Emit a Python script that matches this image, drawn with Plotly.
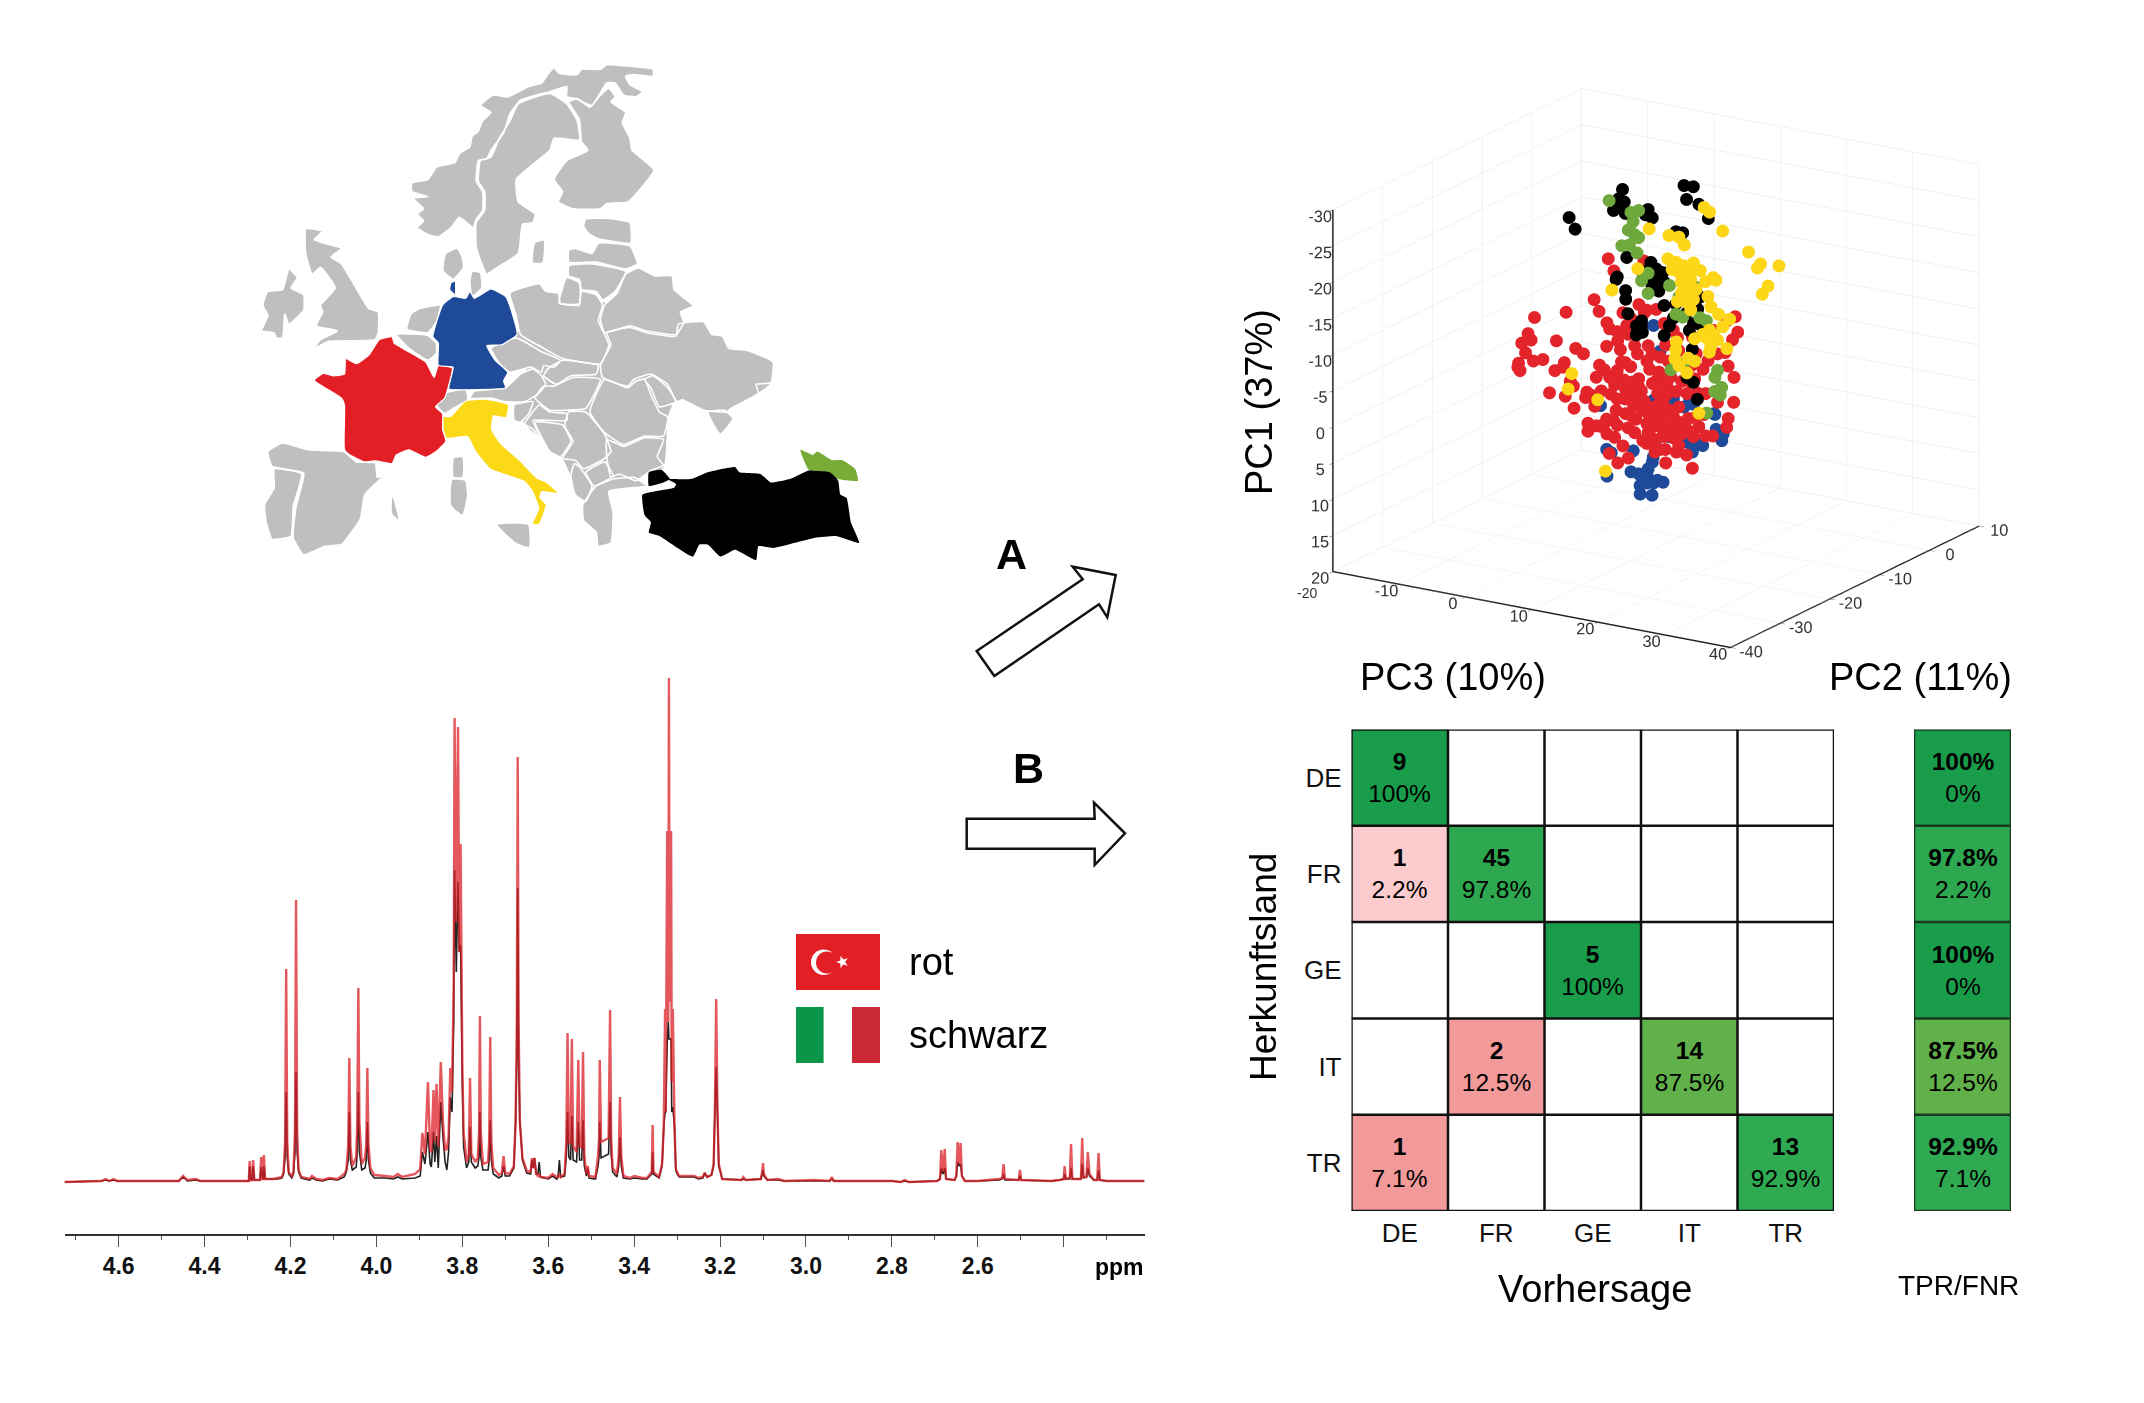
import math
import plotly.graph_objects as go

# ---------- spectrum (ppm, intensity red, intensity black) ----------
spec_ppm = [4.726,4.64,4.63,4.622,4.612,4.603,4.5,4.46,4.45,4.44,4.42,4.41,4.30,4.297,4.295,4.292,4.289,4.287,4.284,4.271,4.268,4.265,4.264,4.262,4.259,4.24,4.23,4.22,
4.216,4.2125,4.21,4.2075,4.204,4.197,4.193,4.1895,4.187,4.1845,4.181,4.175,4.155,4.15,4.14,4.125,4.11,4.09,4.075,4.07,4.0655,4.063,4.0605,4.056,4.047,4.0445,4.042,4.0395,4.034,4.0265,4.0235,4.021,4.0185,4.014,4.005,3.98,3.96,3.95,3.94,3.91,3.898,
3.893,3.889,3.887,3.88,3.875,3.872,3.867,3.864,3.86,3.856,3.85,3.845,3.84,3.836,3.832,3.828,3.824,3.82,3.818,3.814,3.81,3.807,3.804,3.80,3.797,3.79,3.785,3.782,3.779,3.77,3.764,3.761,3.759,3.757,3.752,3.74,3.7375,3.735,3.7325,3.728,3.715,3.708,3.704,3.70,3.69,3.68,3.676,3.673,3.671,3.669,3.666,3.66,3.65,3.641,3.638,3.635,3.632,3.628,3.624,3.621,3.618,3.60,3.59,3.58,3.577,3.574,3.571,3.562,
3.558,3.555,3.552,3.548,3.545,3.542,3.534,3.53,3.527,3.522,3.519,3.516,3.511,3.508,3.505,3.49,3.484,3.4815,3.48,3.477,3.4595,3.456,3.4535,3.45,3.44,3.436,3.433,3.43,3.425,3.41,3.40,3.38,3.37,3.359,3.357,3.355,3.342,
3.335,3.331,3.328,3.3265,3.323,3.3205,3.319,3.3175,3.314,3.3125,3.31,3.306,3.303,3.30,3.295,3.26,3.25,3.24,3.236,3.23,3.22,3.215,3.212,3.209,3.206,3.203,3.195,3.15,3.146,3.14,3.105,3.102,3.10,3.098,3.09,3.065,3.05,2.98,2.945,2.94,2.935,2.87,2.80,2.78,2.77,2.76,2.695,
2.688,2.685,2.681,2.677,2.674,2.654,2.65,2.647,2.6435,2.64,2.637,2.63,2.6,2.55,2.543,2.54,2.537,2.505,2.502,2.499,2.43,2.41,2.4,2.398,2.395,2.386,2.383,2.38,2.36,2.357,2.354,2.347,2.344,2.34,2.33,2.322,2.319,2.316,2.3,2.25,2.212]
spec_red = [0,1,3,1,3,1,1,1,6,2,3,1,1,1,21,2,2,22,2,2,25,3,3,27,3,3,4,5,
10,40,213,40,10,6,10,50,282,50,12,5,3,6,3,2,4,3,8,12,36,124,36,16,25,60,194,60,18,24,38,114,38,14,7,6,5,8,5,8,13,
49,35,28,100,32,30,92,40,98,35,120,60,32,33,45,114,90,200,464,260,455,230,338,120,50,20,28,104,28,20,24,50,166,50,18,20,40,145,40,14,7,9,26,9,8,16,60,160,425,160,60,24,11,10,24,14,24,8,6,8,5,4,8,5,5,8,5,8,
40,149,40,38,143,36,30,122,36,34,130,26,8,16,6,5,26,44,122,40,44,172,44,14,8,26,85,26,6,4,6,4,4,10,57,10,5,
18,55,173,70,351,160,504,180,351,100,173,55,14,10,6,6,4,5,9,5,7,18,70,183,70,18,3,2,5,2,3,10,19,8,2,3,1,2,1,5,1,1,1,0,2,0,1,
3,32,10,33,3,2,6,40,18,39,6,1,1,3,4,18,3,2,12,2,1,2,3,16,3,4,38,3,3,44,5,5,30,8,2,2,29,2,1,1,1]
spec_black = [0,1,2,1,2,1,1,1,5,1,2,1,1,1,16,2,2,16,2,2,15,3,3,16,3,3,3,4,
8,25,90,25,8,4,8,30,110,30,10,4,2,4,2,1,3,2,5,10,22,70,22,12,15,30,90,30,12,14,22,60,22,9,4,4,3,5,3,4,6,
30,22,18,50,18,15,50,20,46,14,80,45,20,12,30,85,70,160,312,210,300,230,237,100,35,14,20,55,20,14,16,25,70,25,12,12,22,62,22,8,4,6,16,6,6,14,60,125,294,125,60,22,9,8,22,14,24,8,8,20,5,3,6,3,5,22,5,6,
25,70,25,22,66,22,20,60,22,22,62,16,6,14,4,3,16,26,60,24,28,80,28,10,5,16,45,16,4,3,4,3,3,8,30,8,4,
16,55,70,70,140,160,143,143,143,70,75,55,12,8,5,5,3,4,9,5,7,16,70,115,70,16,3,2,3,2,3,8,12,6,2,2,1,1,1,3,1,1,1,0,1,0,1,
3,14,8,14,3,2,6,20,16,18,6,1,1,2,3,8,2,2,6,2,1,2,3,8,3,3,14,3,3,18,4,5,14,6,2,2,12,2,1,1,1]
ppm_ticks = [4.6,4.4,4.2,4.0,3.8,3.6,3.4,3.2,3.0,2.8,2.6,2.4]
ppm_labels = ["4.6","4.4","4.2","4.0","3.8","3.6","3.4","3.2","3.0","2.8","2.6",""]
ppm_minor = [4.7,4.5,4.3,4.1,3.9,3.7,3.5,3.3,3.1,2.9,2.7,2.5,2.3]

# ---------- confusion matrix ----------
classes = ["DE","FR","GE","IT","TR"]
conf_signed_pct = [[100,None,None,None,None],
                   [-2.2,97.8,None,None,None],
                   [None,None,100,None,None],
                   [None,-12.5,None,87.5,None],
                   [-7.1,None,None,None,92.9]]
conf_count = [[9,None,None,None,None],
              [1,45,None,None,None],
              [None,None,5,None,None],
              [None,2,None,14,None],
              [1,None,None,None,13]]
tpr = [100,97.8,100,87.5,92.9]
fnr = [0,2.2,0,12.5,7.1]
color_stops = [(-12.5,"#F29A9A"),(-7.1,"#F29A9A"),(-2.2,"#FBCBCD"),(87.5,"#60B14A"),(92.9,"#2FAA53"),(97.8,"#2EA751"),(100,"#1A9D4B")]

# ---------- PCA scores ----------
pc3_ticks = [-20,-10,0,10,20,30,40]
pc3_labels = ["","-10","0","10","20","30","40"]
pc2_ticks = [-40,-30,-20,-10,0,10]
pc2_labels = ["-40","-30","-20","-10","0","10"]
pc1_ticks = [-30,-25,-20,-15,-10,-5,0,5,10,15,20]
pc1_labels = ["-30","-25","-20","-15","-10","-5","0","5","10","15","20"]

blue_pc3 = [-.14,1.06,-8.36,-.14,3.08,5.09,5.89,4.69,8.71,9.11,9.52,10.16,10.16,3.88,4.69,5.89,6.7,5.49,.26,-6.99,-6.75,-3.2,.02,-.55,-.95,-2.16,-3.77,-7.15,.66,1.06,-.14,-.95,-2.4,-2.16,-.14,-1.35,2.27,7.5]
blue_pc1 = [-4.77,-1.5,7.85,5.56,4.72,4.65,5.07,5.56,5.98,5.91,7.8,8.5,9.36,9.9,10.6,10.94,9.96,11.85,11.9,13.46,14.1,13.1,13.36,14.3,15.2,16,16.2,17.3,16.4,16.8,17,17.05,17.86,18.9,18.6,16.1,10.2,10.4]
blue_pc2 = [-2,-2.3,-1.7,-2,-2.3,-1.7,-2,-2.3,-1.7,-2,-2.3,-1.7,-2,-2.3,-1.7,-2,-2.3,-1.7,-2,-2.3,-1.7,-2,-2.3,-1.7,-2,-2.3,-1.7,-2,-2.3,-1.7,-2,-2.3,-1.7,-2,-2.3,-1.7,-2,-2.3]

red_pc3 = [-15.1,-10.11,-6.33,-5.36,-3.75,-3.35,-16.07,-16.8,-15.83,-11.8,-16.23,-14.06,-15.27,-17.28,-17.84,-17.28,-11.8,-11,-10.6,-8.66,-7.94,-9.71,-12.61,-10.68,-9.23,-8.91,-4.4,-2.62,-3.99,-2.79,-2.14,-.77,.43,1.64,-1.18,-5.52,-4.56,-3.19,-6.01,-7.21,-6.41,-7.62,-6.01,-6.81,-6.01,-5.04,-6.81,-4.4,-3.19,-2.38,-1.18,.03,-2.79,-1.98,-2.54,-3.59,-1.18,1.24,2.05,2.85,
-.37,.84,2.05,3.66,1.24,2.45,4.06,5.67,6.88,.03,1.64,3.25,4.86,-1.18,-.37,1.24,2.45,4.06,5.27,.43,2.05,3.66,4.46,5.67,6.88,2.85,4.06,2.05,6.07,-.77,-1.58,-2.79,-3.99,
6.47,6.88,4.46,2.05,2.85,4.86,.43,-.37,1.64,8.49,9.69,10.5,12.51,15.17,14.77,14.12,13.88,15.33,14.77,15.41,13.72,9.29,11.3,10.1,12.51,9.29,8.88,9.69,8.08,10.5,14.12,14.12,11.55,8.88,6.88,6.07,7.84,4.86,8.49,4.7,4.06,5.67,10.5,6.88,7.68,
3.25,2.05,1.24,4.46,6.07,8.49,-1.18,-.37,-1.98,1.4,.84,3.25,4.86,.84,3.25,4.46,2.85,1.64,5.27,-.37,-1.58,-2.79,-3.99,-4.8,4.46,3.25,6.88,8.08,-2.38,-1.58,-3.59,-4.8,6.07,8.49,6.07,3.66,-1.98,-2.38,-3.99,0,12.1,12.91,11.7,13.72,12.91,2.05,7.68]
red_pc1 = [-4.6,-6.3,-8.5,-7.15,-14.8,-13,-2.2,-.86,-1.25,-1.95,.38,1.13,1.45,2,2.84,3.13,2.07,1.65,.85,-1.55,-.73,3.27,5.28,5.62,3.86,6.76,-5.64,-4.83,-2.65,-3.4,-2.41,-4.88,-9,-15.08,-.9,.42,.81,1.4,2.18,4.34,4.49,5.26,6.09,8.46,8.89,8.72,9.58,9.72,7.55,7.97,8.32,8.68,9.72,10.97,13.31,12.09,12.51,9.57,9.71,10.97,
1.75,.98,-.34,-.34,2.59,1.54,.98,-.14,.49,3.37,3.92,2.8,2.52,4.13,5.1,5.38,4.61,4.06,4.68,6.65,6.36,5.52,6.5,5.73,6.08,7.34,7.69,8.32,7.06,2.94,1.68,2.46,1.82,
-5.58,-3.98,-4.12,-3.7,-2.72,-1.95,-2.29,-.48,-1.39,.21,1.4,1.54,2.31,1.73,-1.44,-3,-4.92,-7.79,-6.74,-10.15,-9.08,-3.84,-3.35,-1.74,-4.4,-.49,5.17,6.15,6.71,7.4,4.26,5.38,7.22,7.68,9.15,10.41,10.39,10.06,12.22,12.05,10.2,8.52,4.33,3.84,2.03,
-8.93,-8.72,-8.02,-7.19,-6.63,-5.93,-5.93,-7.19,-7.46,-15.3,2.1,.84,1.12,4.62,4.47,5.1,6.22,7.27,6.64,6.22,6.43,6.09,7.41,8.4,8.45,8.94,7.75,5.31,4.34,3.08,3.99,3.65,2.03,-2.02,-2.16,-2.3,-.76,.43,-4.88,-3.34,-7.68,-9.78,-.91,.42,2.24,-6.49,-4.68]
red_pc2 = [-6,-6.3,-5.7,-6,-6.3,-5.7,-6,-6.3,-5.7,-6,-6.3,-5.7,-6,-6.3,-5.7,-6,-6.3,-5.7,-6,-6.3,-5.7,-6,-6.3,-5.7,-6,-6.3,-5.7,-6,-6.3,-5.7,-6,-6.3,-5.7,-6,-6.3,-5.7,-6,-6.3,-5.7,-6,-6.3,-5.7,-6,-6.3,-5.7,-6,-6.3,-5.7,-6,-6.3,-5.7,-6,-6.3,-5.7,-6,-6.3,-5.7,-6,-6.3,-5.7,
-6,-6.3,-5.7,-6,-6.3,-5.7,-6,-6.3,-5.7,-6,-6.3,-5.7,-6,-6.3,-5.7,-6,-6.3,-5.7,-6,-6.3,-5.7,-6,-6.3,-5.7,-6,-6.3,-5.7,-6,-6.3,-5.7,-6,-6.3,-5.7,
-6,-6.3,-5.7,-6,-6.3,-5.7,-6,-6.3,-5.7,-6,-6.3,-5.7,-6,-6.3,-5.7,-6,-6.3,-5.7,-6,-6.3,-5.7,-6,-6.3,-5.7,-6,-6.3,-5.7,-6,-6.3,-5.7,-6,-6.3,-5.7,-6,-6.3,-5.7,-6,-6.3,-5.7,-6,-6.3,-5.7,-6,-6.3,-5.7,
-6,-6.3,-5.7,-6,-6.3,-5.7,-6,-6.3,-5.7,-6,-6.3,-5.7,-6,-6.3,-5.7,-6,-6.3,-5.7,-6,-6.3,-5.7,-6,-6.3,-5.7,-6,-6.3,-5.7,-6,-6.3,-5.7,-6,-6.3,-5.7,-6,-6.3,-5.7,-6,-6.3,-5.7,-6,-6.3]

black_pc3 = [1.18,10.68,11.64,10.84,12.93,13.9,-6.88,-5.75,.37,-.19,1.66,.61,5.04,1.82,5.44,4.64,9.47,10.03,1.82,5.68,3.83,6.25,7.46,5.2,6.25,7.05,4.64,6.65,5.85,7.3,.21,.61,1.42,1.66,2.22,3.83,3.43,4.24,3.03,8.26,9.07,10.68,11.88,11.48,12.7,7.46,13.09,12.29,7.46,9.47,11.48,11.88,12.7,10.68,3.27,4.4]
black_pc1 = [-26.5,-28.8,-28.6,-26.8,-26.6,-24.6,-21.2,-19.9,-24.95,-23.35,-24.95,-24.3,-24.4,-23.4,-23.2,-23.6,-22.2,-21.95,-17.2,-17.3,-15.6,-16.4,-16.2,-14.5,-14.1,-15.4,-15.25,-13.4,-13.8,-14.6,-13.9,-14.4,-12.45,-11.4,-9.6,-8.7,-7.5,-8.2,-6.6,-8.9,-10.2,-11,-9.8,-8.9,-9.7,-7.4,-13.8,-11.8,-11.55,-12.2,-6.1,-1.7,.4,-2.05,-8,-7.4]
black_pc2 = [-10,-10.3,-9.7,-10,-10.3,-9.7,-10,-10.3,-9.7,-10,-10.3,-9.7,-10,-10.3,-9.7,-10,-10.3,-9.7,-10,-10.3,-9.7,-10,-10.3,-9.7,-10,-10.3,-9.7,-10,-10.3,-9.7,-10,-10.3,-9.7,-10,-10.3,-9.7,-10,-10.3,-9.7,-10,-10.3,-9.7,-10,-10.3,-9.7,-10,-10.3,-9.7,-10,-10.3,-9.7,-10,-10.3,-9.7,-10,-10.3]

green_pc3 = [1.41,6.08,4.47,5.03,4.71,4.07,5.27,6.08,3.1,4.47,5.84,6.08,7.29,10.75,14.13,11.96,11.71,12.28,15.1,16.3,10.51,17.75,17.59,18.16,17.35,18.4,15.9,7.29,12.92]
green_pc1 = [-26,-25.55,-24.8,-23.75,-22.7,-22.3,-21.95,-21.8,-19.95,-20.4,-19.65,-15.65,-14.2,-16,-16.2,-14.55,-12.2,-11.7,-12.2,-12.1,-4.1,-5.4,-4.5,-3,-2.4,-2.2,.95,-17,-5.7]
green_pc2 = [-13,-13.3,-12.7,-13,-13.3,-12.7,-13,-13.3,-12.7,-13,-13.3,-12.7,-13,-13.3,-12.7,-13,-13.3,-12.7,-13,-13.3,-12.7,-13,-13.3,-12.7,-13,-13.3,-12.7,-13,-13.3]

yellow_pc3 = [17.99,19.03,20.56,9.69,12.91,13.96,15.01,24.91,26.28,26.04,29.5,27.41,26.76,12.75,13.56,13.16,14.36,15.57,16.38,15.17,17.18,15.97,14.77,17.99,19.35,20,15.17,16.38,14.77,15.57,15.97,18.79,18.79,13.96,20.4,21.61,20.8,4.3,7.76,18.79,19.6,17.99,20,19.19,21.2,18.79,16.78,13.56,13.72,13.8,13.96,15.57,16.78,15.17,-1.98,-2.3,1.72,3.09,17.42,14.36,16.78,17.99]
yellow_pc1 = [-28.96,-28.6,-26.05,-24.55,-24.3,-24.05,-23.25,-24.1,-22.5,-22,-23,-19.65,-18.5,-21.05,-20.5,-19.55,-19.5,-19.4,-21,-20.5,-20,-18.65,-18.2,-18.6,-19.5,-19.35,-16.85,-15.95,-15.65,-14.95,-14.45,-16.9,-15.25,-15.25,-14.7,-14.05,-12.95,-15.25,-18.6,-12.15,-11.75,-10.9,-11,-10,-9.9,-9.1,-10.7,-9.5,-8.5,-7.4,-6.3,-7.7,-7.6,-5.5,-2.5,-.4,.57,10.1,-.5,-16.4,-17.4,-11.5]
yellow_pc2 = [-16,-16.3,-15.7,-16,-16.3,-15.7,-16,-16.3,-15.7,-16,-16.3,-15.7,-16,-16.3,-15.7,-16,-16.3,-15.7,-16,-16.3,-15.7,-16,-16.3,-15.7,-16,-16.3,-15.7,-16,-16.3,-15.7,-16,-16.3,-15.7,-16,-16.3,-15.7,-16,-16.3,-15.7,-16,-16.3,-15.7,-16,-16.3,-15.7,-16,-16.3,-15.7,-16,-16.3,-15.7,-16,-16.3,-15.7,-16,-16.3,-15.7,-16,-16.3,-15.7,-16,-16.3]

# ---------- map outlines ----------
map_land = [[(670,860),(880,760),(1000,830),(1290,935),(1285,995),(1255,1025),(1190,1060),(1125,1070),(1075,1040),(1055,1050),(1040,1095),(1030,1240),(960,1275),(900,1310),(860,1300),(840,1340),(790,1215),(700,1115),(675,1060),(730,1030)]]
map_islands = [
 [(532,1215),(552,1212),(552,1268),(532,1268)],
 [(528,1278),(558,1280),(563,1322),(552,1378),(526,1352)],
 [(636,1408),(708,1408),(710,1472),(680,1460)],
 [(386,1326),(400,1392),(385,1374)],
 [(725,590),(745,583),(742,645),(720,645)],
]
map_gray = [
 [(755,100),(770,80),(780,95),(800,100),(825,100),(835,85),(880,85),(895,72),(940,75),(1005,85),(1005,105),(960,100),(940,105),(950,130),(980,150),(965,165),(935,160),(915,125),(895,125),(860,190),(820,170),(800,165),(800,135),(760,150),(690,175),(665,215),(650,270),(620,320),(610,345),(590,350),(585,410),(600,440),(600,495),(585,520),(578,545),(545,515),(525,545),(495,572),(470,565),(445,545),(460,525),(445,505),(460,490),(435,460),(470,455),(432,440),(432,415),(470,405),(490,370),(535,355),(545,330),(570,310),(575,280),(590,265),(600,235),(620,210),(595,190),(625,160),(660,165),(710,135),(740,125)],
 [(760,155),(800,185),(825,235),(830,290),(770,285),(760,320),(680,405),(685,470),(725,505),(720,530),(695,535),(685,620),(635,660),(610,680),(595,640),(585,600),(585,530),(605,495),(605,440),(590,410),(595,350),(620,340),(640,285),(665,235),(685,185)],
 [(805,180),(825,170),(855,195),(880,160),(900,140),(915,165),(905,180),(940,210),(932,240),(950,285),(955,320),(1007,378),(945,470),(895,475),(880,490),(815,490),(780,470),(790,440),(770,405),(800,350),(850,320),(835,295),(830,230)],
 [(512,620),(540,605),(550,625),(555,660),(530,695),(506,670)],
 [(575,672),(595,675),(598,720),(575,745),(570,700)],
 [(180,548),(220,555),(200,580),(265,605),(240,630),(265,650),(290,700),(330,780),(352,790),(352,850),(345,870),(235,875),(200,895),(215,870),(255,845),(205,830),(220,790),(215,770),(250,720),(215,660),(195,680),(180,620)],
 [(140,665),(160,690),(145,720),(175,740),(175,785),(140,825),(130,795),(125,865),(110,865),(105,850),(75,845),(90,800),(78,770),(90,730),(125,725)],
 [(420,840),(430,795),(450,780),(500,770),(490,820),(470,850)],
 [(395,855),(470,858),(490,880),(490,910),(470,930),(425,895)],
 [(90,1195),(125,1170),(185,1190),(270,1195),(300,1225),(345,1228),(350,1270),(365,1265),(320,1320),(310,1390),(265,1465),(225,1470),(175,1495),(150,1445),(157,1355),(175,1258),(100,1238)],
 [(105,1245),(170,1260),(150,1355),(145,1440),(100,1450),(85,1395),(82,1350),(105,1300)],
 [(495,1030),(560,1015),(565,1045),(530,1070),(510,1085),(490,1060)],
 [(570,1040),(580,1020),(655,1010),(690,970),(720,955),(740,975),(750,1000),(730,1030),(700,1050),(650,1050),(620,1040)],
 [(620,895),(680,865),(740,905),(785,930),(770,950),(745,945),(740,965),(715,950),(665,965),(640,940)],
 [(665,735),(735,708),(750,730),(780,735),(785,765),(830,770),(835,730),(870,740),(885,770),(875,815),(900,885),(880,940),(790,925),(745,895),(690,855),(680,800)],
 [(845,520),(900,518),(950,530),(952,590),(870,575),(850,560),(840,540)],
 [(875,590),(950,598),(968,650),(940,665),(870,645),(805,645),(805,610),(820,605),(860,620)],
 [(805,655),(860,650),(940,672),(915,730),(885,755),(870,730),(835,725),(830,695),(805,685)],
 [(800,690),(830,705),(830,765),(782,765),(790,720)],
 [(970,662),(1010,685),(1050,685),(1055,725),(1100,772),(1070,790),(1078,820),(1060,855),(990,845),(950,830),(890,850),(880,810),(890,770),(920,735),(940,680)],
 [(895,850),(950,835),(990,850),(1060,860),(1065,825),(1125,818),(1145,855),(1170,860),(1185,895),(1225,900),(1290,935),(1285,995),(1250,1000),(1255,1025),(1190,1070),(1180,1080),(1125,1075),(1075,1045),(1060,1050),(1040,1000),(1000,970),(960,985),(945,1005),(885,980),(880,945),(905,885)],
 [(1135,1080),(1175,1075),(1195,1100),(1165,1145),(1150,1120)],
 [(985,985),(1005,975),(1040,1010),(1060,1050),(1020,1065),(1000,1010)],
 [(790,930),(875,945),(870,970),(810,975),(775,1000),(745,975),(755,955)],
 [(745,1005),(770,1005),(815,980),(880,985),(845,1070),(800,1075),(760,1075),(725,1040)],
 [(890,985),(945,1010),(965,990),(985,985),(1000,1030),(1020,1080),(1040,1095),(1030,1150),(985,1150),(935,1175),(890,1140),(855,1080)],
 [(895,1160),(935,1180),(985,1155),(1030,1160),(1015,1210),(1030,1235),(1000,1250),(965,1280),(925,1260),(905,1270),(895,1210)],
 [(675,1060),(720,1050),(710,1085),(690,1110),(675,1105)],
 [(735,1060),(760,1080),(800,1085),(800,1105),(720,1105),(760,1200),(720,1130),(700,1115)],
 [(725,1110),(790,1118),(810,1165),(785,1210),(760,1195)],
 [(805,1080),(845,1080),(890,1145),(905,1195),(890,1215),(840,1245),(820,1220),(790,1215),(815,1165),(795,1120)],
 [(818,1230),(830,1240),(860,1295),(845,1340),(820,1320),(810,1265)],
 [(845,1255),(890,1225),(910,1265),(865,1295)],
 [(870,1295),(910,1275),(960,1270),(990,1295),(900,1310),(910,1370),(905,1460),(875,1470),(870,1430),(840,1395),(838,1350)],
]
map_france = [[(355,870),(385,862),(390,880),(465,935),(485,980),(495,945),(528,952),(510,1040),(488,1065),(505,1085),(505,1130),(513,1165),(490,1195),(465,1212),(425,1190),(395,1205),(385,1230),(345,1222),(320,1225),(285,1205),(272,1190),(272,1060),(265,1040),(200,988),(222,968),(245,975),(272,970),(275,925),(300,940),(330,915)]]
map_germany = [[(505,770),(530,745),(560,750),(570,730),(580,750),(620,723),(655,745),(672,800),(682,855),(645,885),(610,887),(630,930),(660,965),(650,990),(655,1010),(590,1015),(520,1013),(530,950),(495,945),(495,880),(482,862)],
 [(525,705),(535,700),(535,740),(522,725)]]
map_italy = [[(508,1095),(525,1095),(560,1050),(610,1045),(660,1060),(655,1095),(625,1090),(620,1130),(640,1170),(690,1225),(730,1275),(750,1285),(778,1315),(740,1310),(735,1330),(750,1350),(733,1405),(720,1405),(735,1360),(720,1310),(700,1280),(620,1245),(585,1195),(565,1150),(515,1155),(508,1130)]]
map_turkey = [[(995,1255),(1025,1248),(1045,1275),(1030,1285),(995,1295)],
 [(980,1320),(1055,1300),(1060,1290),(1040,1275),(1095,1275),(1135,1255),(1200,1240),(1210,1255),(1260,1260),(1285,1285),(1330,1275),(1375,1250),(1430,1255),(1445,1280),(1450,1320),(1465,1330),(1475,1400),(1495,1460),(1440,1440),(1390,1445),(1290,1475),(1255,1470),(1250,1510),(1200,1480),(1165,1500),(1135,1465),(1115,1465),(1100,1500),(1020,1440),(995,1430),(1000,1400),(985,1380)]]
map_georgia = [[(1355,1190),(1385,1205),(1395,1195),(1430,1220),(1455,1220),(1485,1245),(1492,1280),(1445,1275),(1425,1255),(1375,1248)]]

# ---------- helpers / page geometry ----------
W, H, M = 2144, 1403, 8
FW, FH = W - 2*M, H - 2*M
def dx(a, b): return [(a-M)/FW, (b-M)/FW]
def dy(a, b): return [1-(b-M)/FH, 1-(a-M)/FH]
def flat(polys):
    xs, ys = [], []
    for p in polys:
        xs += [q[0] for q in p] + [p[0][0], None]
        ys += [q[1] for q in p] + [p[0][1], None]
    return xs, ys

fig = go.Figure()
FONT = "Liberation Sans, Arial, sans-serif"

# map
for polys, col, lw in [(map_land,"#BFBFBF",0),(map_islands,"#BFBFBF",0),(map_gray,"#BFBFBF",1.6),(map_france,"#E31E24",1.2),(map_germany,"#1F4A9A",1.2),
                       (map_italy,"#FCD917",0),(map_turkey,"#000000",0),(map_georgia,"#78AC36",0)]:
    xs, ys = flat(polys)
    fig.add_trace(go.Scatter(x=xs, y=ys, mode="lines", fill="toself", fillcolor=col,
                             line=dict(color="#FFFFFF", width=lw, shape="spline", smoothing=0.4), xaxis="x2", yaxis="y2", hoverinfo="skip"))

# spectrum
fig.add_trace(go.Scatter(x=spec_ppm, y=spec_black, mode="lines", line=dict(color="#222222", width=1.6, simplify=False),
                         xaxis="x3", yaxis="y3", hoverinfo="skip"))
fig.add_trace(go.Scatter(x=spec_ppm, y=spec_red, mode="lines", line=dict(color="#DC2028", width=2.4, simplify=False),
                         opacity=0.75, xaxis="x3", yaxis="y3", hoverinfo="skip"))

# confusion matrix
lo, hi = color_stops[0][0], color_stops[-1][0]
cs = [[(v-lo)/(hi-lo), c] for v, c in color_stops]
conf_text = [[("" if conf_count[r][c] is None else f"<b>{conf_count[r][c]}</b><br>{abs(conf_signed_pct[r][c]):g}%")
              for c in range(5)] for r in range(5)]
fig.add_trace(go.Heatmap(z=conf_signed_pct, x=classes, y=classes, text=conf_text, texttemplate="%{text}",
                         textfont=dict(size=24.5, family=FONT, color="#000"),
                         colorscale=cs, zmin=lo, zmax=hi, showscale=False, xaxis="x4", yaxis="y4", hoverinfo="skip"))
side_text = [[f"<b>{t:g}%</b><br>{f:g}%"] for t, f in zip(tpr, fnr)]
fig.add_trace(go.Heatmap(z=[[t] for t in tpr], x=["TPR/FNR"], y=classes, text=side_text, texttemplate="%{text}",
                         textfont=dict(size=24.5, family=FONT, color="#000"),
                         colorscale=cs, zmin=lo, zmax=hi, showscale=False, xaxis="x5", yaxis="y5", hoverinfo="skip"))

# PCA 3D
for xv, yv, zv, col in [(blue_pc3,blue_pc2,blue_pc1,"#1F4A9A"),(red_pc3,red_pc2,red_pc1,"#E3242B"),
                        (black_pc3,black_pc2,black_pc1,"#000000"),(green_pc3,green_pc2,green_pc1,"#6FA83C"),
                        (yellow_pc3,yellow_pc2,yellow_pc1,"#FCD617")]:
    fig.add_trace(go.Scatter3d(x=xv, y=yv, z=zv, mode="markers", marker=dict(size=7.5, color=col, line=dict(width=0)),
                               hoverinfo="skip", scene="scene"))

def scene_axis(rng, ticks, labels):
    return dict(range=rng, tickmode="array", tickvals=ticks, ticktext=labels, tickangle=0,
                title=dict(text=""), showbackground=False, gridcolor="#E4E4E4", gridwidth=1,
                zeroline=False, showspikes=False, showline=True, linecolor="#222222", linewidth=3, ticks="outside",
                ticklen=6, tickcolor="#333333", tickfont=dict(size=14, family=FONT, color="#333333"))

shapes = []
# arrows
shapes.append(dict(type="path", xref="x", yref="y", line=dict(color="#111", width=2.5), fillcolor="white",
    path="M976.7,651 L994.3,676 L1099,604.3 L1107.3,617.3 L1115.7,575 L1072.7,566.7 L1082.7,579.3 Z"))
shapes.append(dict(type="path", xref="x", yref="y", line=dict(color="#111", width=2.5), fillcolor="white",
    path="M966.7,818.7 L966.7,848.7 L1094.7,848.7 L1094.7,865 L1125,833.3 L1094,802.7 L1094.7,818.7 Z"))
# flags
shapes += [dict(type="rect", xref="x", yref="y", x0=796, x1=880, y0=934, y1=990, fillcolor="#E31E24", line=dict(width=0)),
           dict(type="circle", xref="x", yref="y", x0=811, x1=836.5, y0=949.5, y1=975, fillcolor="white", line=dict(width=0)),
           dict(type="circle", xref="x", yref="y", x0=816, x1=838, y0=951.5, y1=973.5, fillcolor="#E31E24", line=dict(width=0)),
           dict(type="rect", xref="x", yref="y", x0=796, x1=823.6, y0=1007, y1=1063, fillcolor="#0A9648", line=dict(width=0)),
           dict(type="rect", xref="x", yref="y", x0=852, x1=880, y0=1007, y1=1063, fillcolor="#CC2936", line=dict(width=0))]
star = []
for k in range(10):
    r = 6.5 if k % 2 == 0 else 2.6
    a = math.radians(180 + 36*k)
    star.append(f"{842.5 + r*math.cos(a):.1f},{962 + r*math.sin(a):.1f}")
shapes.append(dict(type="path", xref="x", yref="y", fillcolor="white", line=dict(width=0), path="M" + " L".join(star) + " Z"))
# matrix grid
for i in range(6):
    shapes.append(dict(type="line", xref="x4", yref="y4", x0=i-.5, x1=i-.5, y0=-.5, y1=4.5, line=dict(color="#111", width=2.5)))
    shapes.append(dict(type="line", xref="x4", yref="y4", x0=-.5, x1=4.5, y0=i-.5, y1=i-.5, line=dict(color="#111", width=2.5)))
    shapes.append(dict(type="line", xref="x5", yref="y5", x0=-.5, x1=.5, y0=i-.5, y1=i-.5, line=dict(color="#1a3a22", width=2.5)))
for xv in (-.5, .5):
    shapes.append(dict(type="line", xref="x5", yref="y5", x0=xv, x1=xv, y0=-.5, y1=4.5, line=dict(color="#1a3a22", width=2.5)))

def note(txt, x, y, size, rot=0, anchor="center", color="#000"):
    return dict(text=txt, x=x, y=y, xref="x", yref="y", showarrow=False, xanchor=anchor, yanchor="middle",
                textangle=rot, font=dict(size=size, family=FONT, color=color))
annotations = [note("<b>A</b>",1011,554,43), note("<b>B</b>",1028,768,43),
    note("rot",907,962,38,anchor="left"), note("schwarz",907,1035,38,anchor="left"),
    note("<b>ppm</b>",1119,1267,23), note("PC1 (37%)",1259,402,38,rot=-90),
    note("PC3 (10%)",1453,677,38), note("PC2 (11%)",1920,677,38),
    note("Vorhersage",1595,1289,38), note("Herkunftsland",1263,967,37,rot=-90),
    note("TPR/FNR",1958,1285,28), note("-20",1307,593,14,color="#333333")]

hidden = dict(visible=False, showgrid=False, zeroline=False)
fig.update_layout(
    width=FW, height=FH, margin=dict(l=0, r=0, t=0, b=0), showlegend=False, autosize=False,
    paper_bgcolor="white", plot_bgcolor="white", hovermode=False,
    xaxis=dict(hidden, domain=[0,1], range=[M, W-M]),
    yaxis=dict(hidden, domain=[0,1], range=[H-M, M]),
    xaxis2=dict(hidden, domain=dx(230,890), range=[0,1568], anchor="y2"),
    yaxis2=dict(hidden, domain=dy(40,580), range=[1568,0], anchor="x2"),
    xaxis3=dict(domain=dx(64.5,1144.5), range=[4.726,2.212], anchor="y3", showgrid=False, zeroline=False,
                showline=True, linecolor="#333333", linewidth=1.5, ticks="outside", ticklen=11, tickcolor="#555555",
                tickmode="array", tickvals=ppm_ticks, ticktext=[f"<b>{t}</b>" if t else "" for t in ppm_labels],
                tickfont=dict(size=23, family=FONT, color="#111"),
                minor=dict(tickmode="array", tickvals=ppm_minor, ticks="outside", ticklen=4, tickcolor="#555555", showgrid=False)),
    yaxis3=dict(hidden, domain=dy(662,1234), range=[-52,520], anchor="x3"),
    xaxis4=dict(domain=dx(1351.5,1834), range=[-.5,4.5], anchor="y4", type="category", showgrid=False, zeroline=False,
                ticks="", ticklabelstandoff=4, tickfont=dict(size=26, family=FONT, color="#111")),
    yaxis4=dict(domain=dy(729.5,1211), range=[4.5,-.5], anchor="x4", type="category", showgrid=False, zeroline=False,
                ticks="", ticklabelstandoff=9, tickfont=dict(size=26, family=FONT, color="#111")),
    xaxis5=dict(hidden, domain=dx(1914,2011), range=[-.5,.5], anchor="y5", type="category"),
    yaxis5=dict(hidden, domain=dy(729.5,1211), range=[4.5,-.5], anchor="x5", type="category"),
    scene=dict(domain=dict(x=dx(1256,2056), y=dy(18,718)),
               xaxis=scene_axis([-20,40],pc3_ticks,pc3_labels), yaxis=scene_axis([-40,10],pc2_ticks,pc2_labels), zaxis=scene_axis([20,-30],pc1_ticks,pc1_labels),
               aspectmode="manual", aspectratio=dict(x=1.34,y=1.34,z=1.085),
               camera=dict(projection=dict(type="orthographic"), up=dict(x=0,y=0,z=1), center=dict(x=0,y=0,z=0),
                           eye=dict(x=.5046*1.9, y=-.8073*1.9, z=.3054*1.9)),
               bgcolor="rgba(0,0,0,0)"),
    shapes=shapes, annotations=annotations,
)
fig.write_html("out.html")
